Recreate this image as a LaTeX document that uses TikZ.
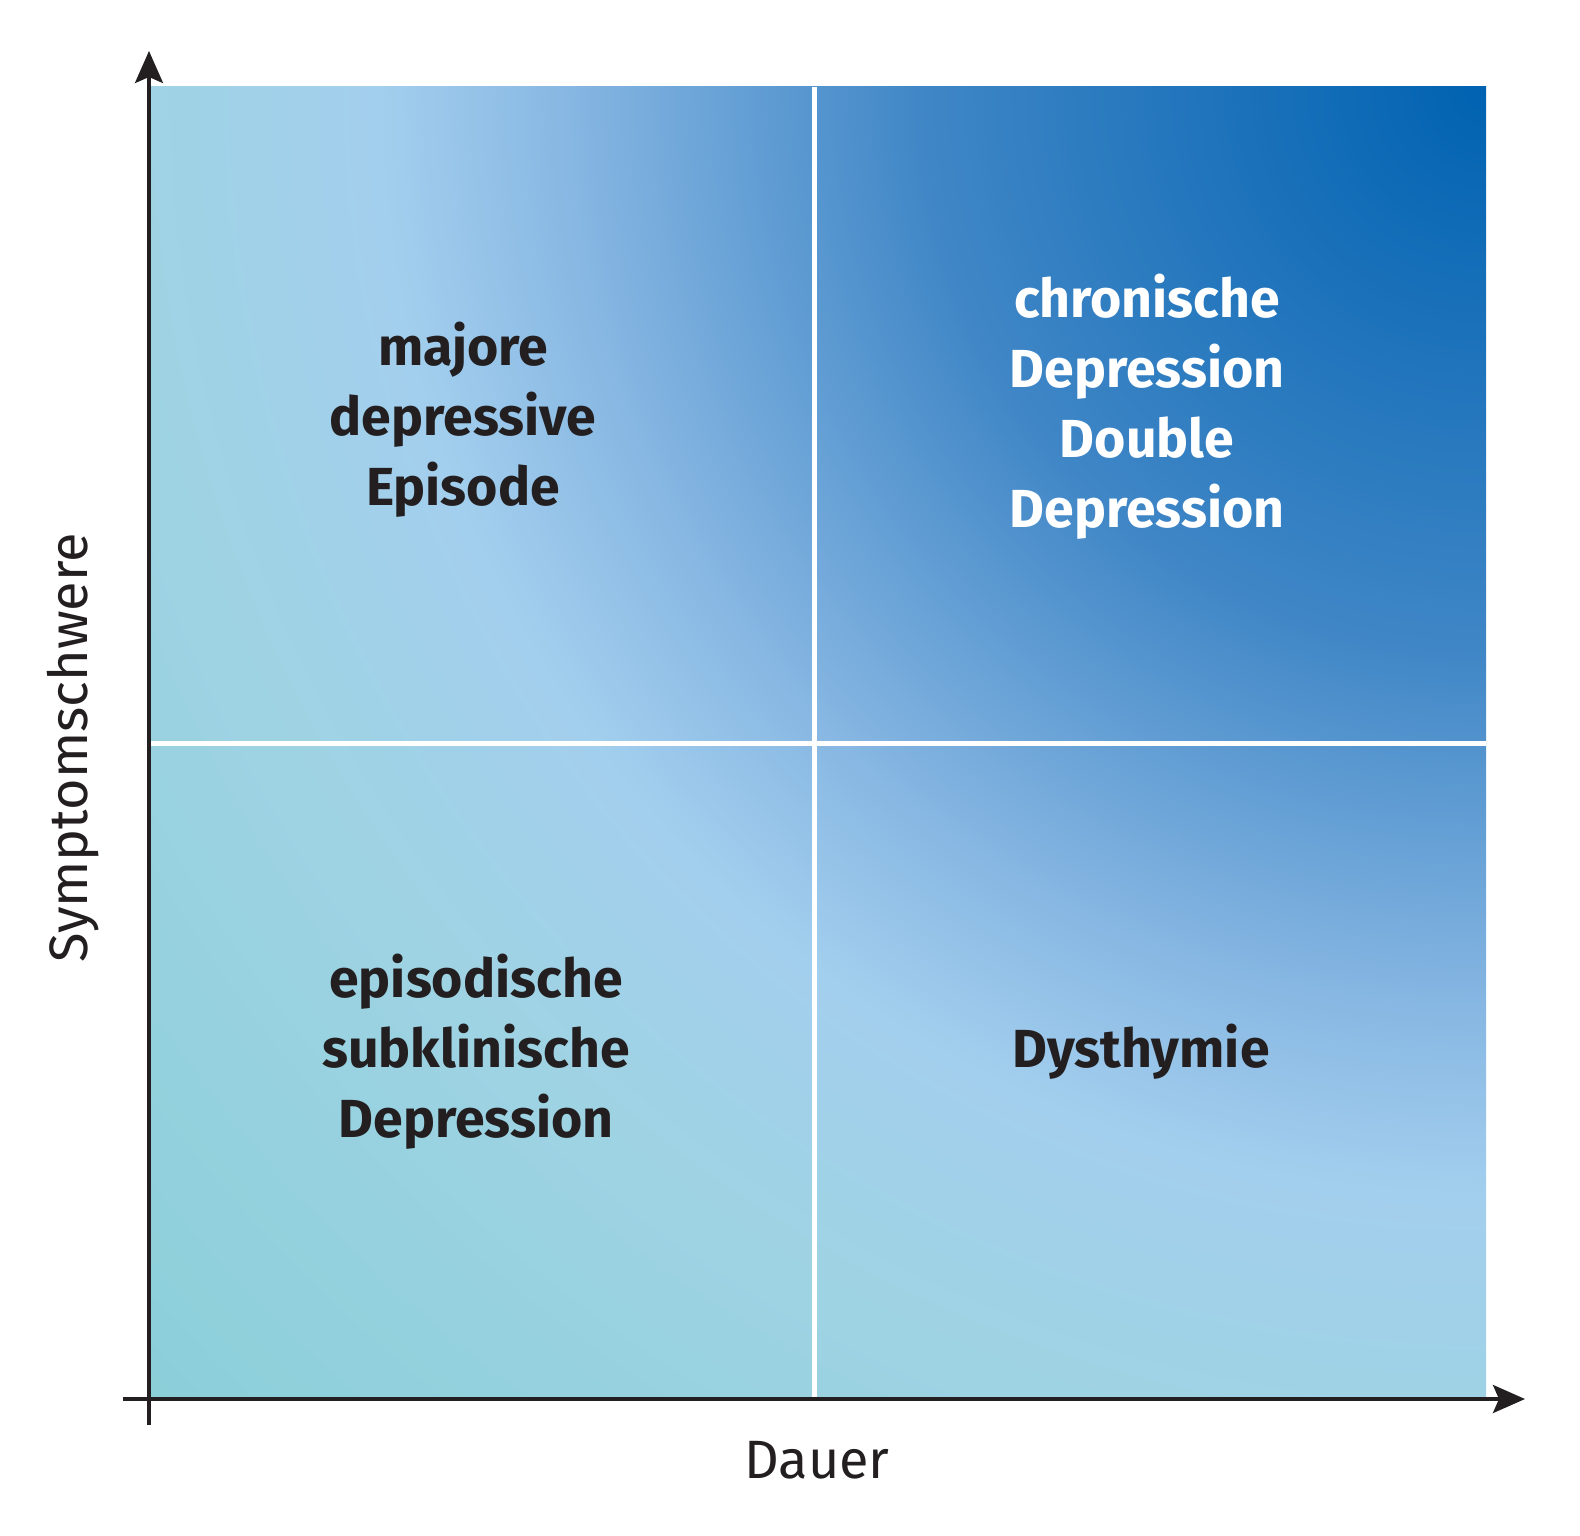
\documentclass[tikz,border=0pt]{standalone}
\usepackage{fontspec}
\setmainfont{Fira Sans}
\usetikzlibrary{arrows.meta}
\definecolor{axisc}{HTML}{231F20}
\definecolor{gA}{HTML}{0062B1}
\definecolor{gB}{HTML}{3F86C6}
\definecolor{gC}{HTML}{86B6E2}
\definecolor{gD}{HTML}{A3CFEE}
\definecolor{gE}{HTML}{9FD3E4}
\definecolor{gF}{HTML}{8BCFD9}
\pgfdeclareradialshading{quadshade}{\pgfpoint{0bp}{0bp}}{%
  color(0bp)=(gA); color(7.5bp)=(gB); color(12.2bp)=(gC); color(14.8bp)=(gD);
  color(18bp)=(gE); color(25bp)=(gF); color(50bp)=(gF)}
\tikzset{
  axisline/.style={draw=axisc, line width=1.8pt, -{Stealth[length=16pt,width=14pt,inset=3pt]}},
  divider/.style={draw=white, line width=2.6pt},
  celltext/.style={align=center, anchor=base, inner sep=0pt, font=\fontsize{26.8}{35}\selectfont\bfseries},
  axislabel/.style={anchor=base, inner sep=0pt, text=axisc, font=\fontsize{27}{32}\selectfont},
}
\begin{document}
\begin{tikzpicture}[x=0.5pt, y=-0.5pt]
\useasboundingbox (0,0) rectangle (1580,1536);
% gradient field
\begin{scope}
  \clip (149,87) rectangle (1486,1399);
  \shade[shading=quadshade] (1486,87) circle [radius=935.5pt];
\end{scope}
% dividers
\coordinate (vtop) at (814.5,87);
\coordinate (vbot) at (814.5,1397);
\coordinate (hleft) at (151,743.5);
\coordinate (hright) at (1486,743.5);
\draw[divider] (vtop) -- (vbot);
\draw[divider] (hleft) -- (hright);
% axes
\coordinate (yfoot) at (149,1425);
\coordinate (ytip) at (149,51);
\coordinate (xfoot) at (123,1399);
\coordinate (xtip) at (1525,1399);
\draw[axisline] (yfoot) -- (ytip);
\draw[axisline] (xfoot) -- (xtip);
% cell labels (anchor = baseline of the last line)
\node[celltext, text=axisc] (mde) at (463,505) {majore\\depressive\\Episode};
\node[celltext, text=white] (chr) at (1147,527) {chronische\\Depression\\Double\\Depression};
\node[celltext, text=axisc] (esd) at (476,1137) {episodische\\subklinische\\Depression};
\node[celltext, text=axisc] (dys) at (1141,1067) {Dysthymie};
% axis labels
\node[axislabel] (dauer) at (817,1478) {Dauer};
\node[axislabel, rotate=90] (sym) at (87,748) {Symptomschwere};
\end{tikzpicture}
\end{document}
